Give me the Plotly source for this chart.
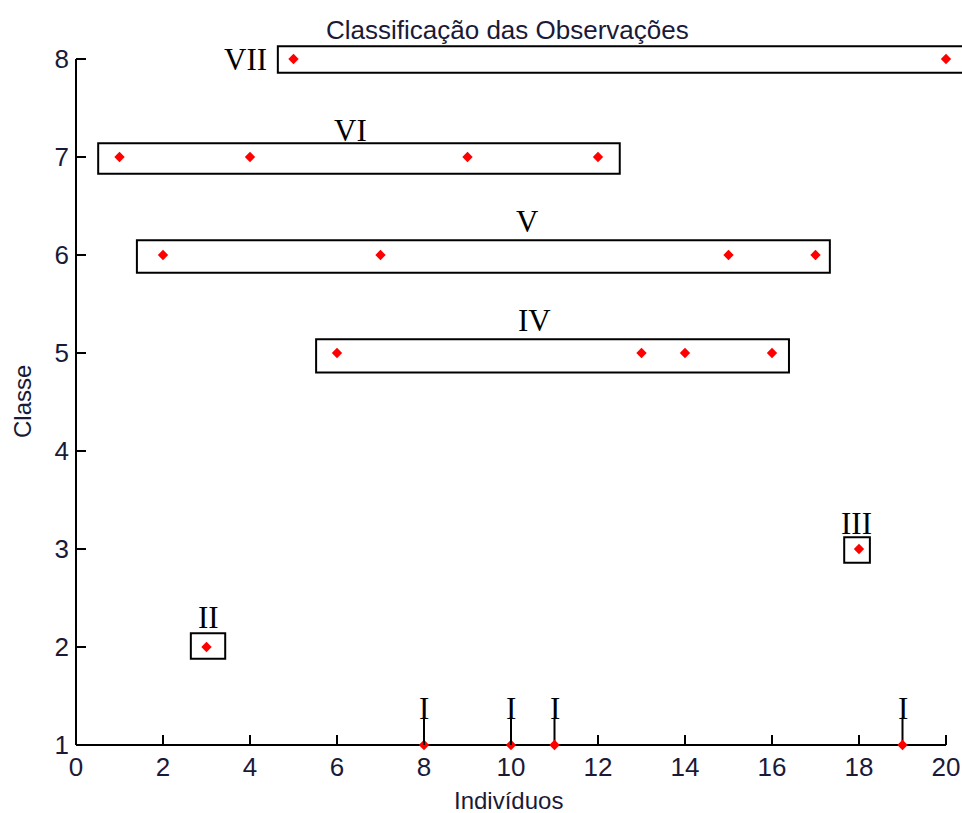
import plotly.graph_objects as go

# Observations: individual number and the class it was assigned to
individuos = list(range(1, 21))
classe = [7, 6, 2, 7, 8, 5, 6, 1, 7, 1, 1, 7, 5, 5, 6, 5, 6, 3, 1, 8]

# Roman-numeral group name shown for each class level
grupo = {1: "I", 2: "II", 3: "III", 5: "IV", 6: "V", 7: "VI", 8: "VII"}

x_ticks = list(range(0, 21, 2))
y_ticks = list(range(1, 9))

# Frame geometry
W, H = 962, 813
ML, MB = 76, 68
X_MAX = (W - ML) / 43.5
Y_MAX = 1 + (H - MB) / 98.0

# Rectangles drawn around each group: (x0, x1, y0, y1)
caixas = {
    "VII": (4.64, 20.8, 7.86, 8.13),
    "VI": (0.51, 12.5, 6.83, 7.14),
    "V": (1.40, 17.33, 5.82, 6.15),
    "IV": (5.52, 16.39, 4.80, 5.14),
    "III": (17.66, 18.25, 2.86, 3.12),
    "II": (2.64, 3.43, 1.88, 2.14),
}
# Where each group name is written
rotulos = {
    "VII": (3.90, 8.00),
    "VI": (6.30, 7.27),
    "V": (10.39, 6.34),
    "IV": (10.55, 5.33),
    "III": (17.95, 3.26),
    "II": (3.05, 2.30),
}
STEM_TOP = 1.27
I_LABEL_Y = 1.37

TXT = "#1a1a38"
SANS = "Liberation Sans, Arial, sans-serif"
SERIF = "Liberation Serif, Times New Roman, serif"

fig = go.Figure()

# Stems above the class-I observations
sx, sy = [], []
for xi, ci in zip(individuos, classe):
    if ci == 1:
        sx += [xi, xi, None]
        sy += [1, STEM_TOP, None]
fig.add_trace(go.Scatter(x=sx, y=sy, mode="lines",
                         line=dict(color="black", width=2),
                         hoverinfo="skip", showlegend=False))

# Observation markers
fig.add_trace(go.Scatter(
    x=individuos, y=classe, mode="markers",
    marker=dict(symbol="diamond", size=8, color="red", line=dict(width=0)),
    cliponaxis=False, showlegend=False,
))

shapes = []
for nome, (x0, x1, y0, y1) in caixas.items():
    shapes.append(dict(type="rect", xref="x", yref="y", x0=x0, x1=x1, y0=y0, y1=y1,
                       line=dict(color="black", width=2), fillcolor="rgba(0,0,0,0)",
                       layer="above"))

# Axis lines stop at the last tick (x=20, y=8)
shapes.append(dict(type="line", xref="paper", yref="paper",
                   x0=0, x1=20 / X_MAX, y0=0, y1=0,
                   line=dict(color="black", width=2), layer="below"))
shapes.append(dict(type="line", xref="paper", yref="paper",
                   x0=0, x1=0, y0=0, y1=(8 - 1) / (Y_MAX - 1),
                   line=dict(color="black", width=2), layer="below"))

annotations = []
for nome, (lx, ly) in rotulos.items():
    annotations.append(dict(x=lx, y=ly, xref="x", yref="y", text=nome, showarrow=False,
                            font=dict(family=SERIF, size=31, color="black"),
                            xanchor="center", yanchor="middle"))
for xi, ci in zip(individuos, classe):
    if ci == 1:
        annotations.append(dict(x=xi, y=I_LABEL_Y, xref="x", yref="y", text=grupo[1],
                                showarrow=False,
                                font=dict(family=SERIF, size=31, color="black"),
                                xanchor="center", yanchor="middle"))

annotations.append(dict(x=10, y=8.3, xref="x", yref="y", xshift=-4,
                        text="Classificação das Observações",
                        showarrow=False, font=dict(family=SANS, size=26, color=TXT),
                        xanchor="center", yanchor="middle"))
annotations.append(dict(x=10, y=0, xref="x", yref="paper", yshift=-55, xshift=-3,
                        text="Indivíduos", showarrow=False,
                        font=dict(family=SANS, size=24, color=TXT),
                        xanchor="center", yanchor="middle"))
annotations.append(dict(x=0, y=4.5, xref="paper", yref="y", xshift=-54,
                        text="Classe", textangle=-90, showarrow=False,
                        font=dict(family=SANS, size=24, color=TXT),
                        xanchor="center", yanchor="middle"))

fig.update_layout(
    width=W, height=H,
    margin=dict(l=ML, r=0, t=0, b=MB, pad=0),
    paper_bgcolor="white", plot_bgcolor="rgba(0,0,0,0)",
    shapes=shapes, annotations=annotations,
    xaxis=dict(range=[0, X_MAX], tickvals=x_ticks, ticktext=[str(v) for v in x_ticks],
               ticks="inside", ticklen=10, tickwidth=2, tickcolor="black",
               ticklabelstandoff=4,
               showgrid=False, zeroline=False, showline=False,
               tickfont=dict(family=SANS, size=26, color=TXT)),
    yaxis=dict(range=[1, Y_MAX], tickvals=y_ticks, ticktext=[str(v) for v in y_ticks],
               ticks="inside", ticklen=10, tickwidth=2, tickcolor="black",
               ticklabelstandoff=6,
               showgrid=False, zeroline=False, showline=False,
               tickfont=dict(family=SANS, size=26, color=TXT)),
    showlegend=False,
)

fig.write_html("out.html")
